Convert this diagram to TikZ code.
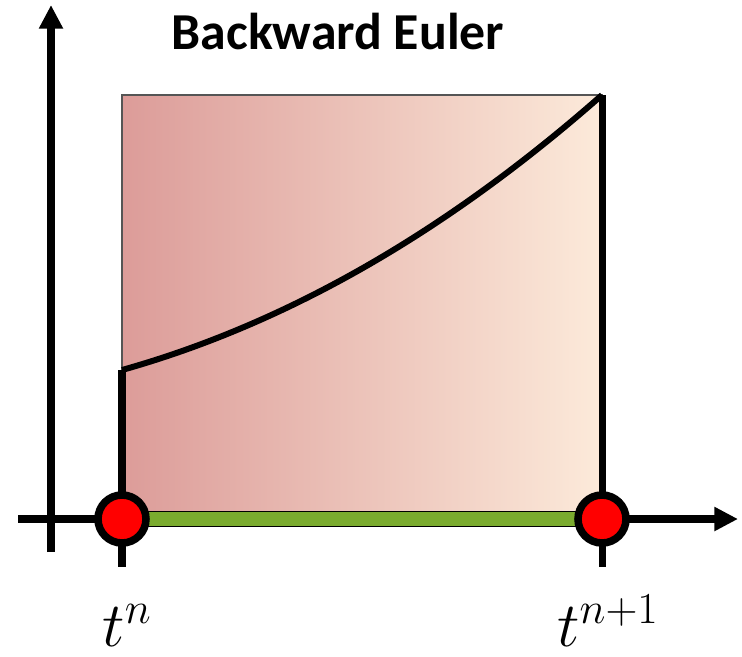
\RequirePackage{fix-cm}
\documentclass[tikz,border=0pt]{standalone}
\usepackage{fontspec}
\newfontfamily\titlefont{Carlito}
\usetikzlibrary{arrows.meta}
\definecolor{leftfill}{HTML}{DC9C99}
\definecolor{rightfill}{HTML}{FCEADA}
\definecolor{barfill}{HTML}{7AAB2E}
\definecolor{dotfill}{HTML}{FF0000}
\definecolor{boxborder}{HTML}{555555}
\tikzset{
  axis/.style={line width=4.5pt, -{Triangle[length=13.5pt,width=13pt]}},
  tick/.style={line width=4pt},
  sol/.style={line width=3.4pt},
  bar/.style={line width=0.6pt, double=barfill, double distance=7.6pt},
  dot/.style={circle, fill=dotfill, draw=black, line width=4.3pt, minimum size=0.96cm, inner sep=0pt},
  tlabel/.style={anchor=base, font=\fontsize{36}{42}\selectfont},
  title/.style={anchor=base, font=\titlefont\bfseries\fontsize{29.5}{35}\selectfont}
}

\begin{document}
\begin{tikzpicture}[x=0.02cm, y=-0.02cm]
\useasboundingbox (0,0) rectangle (742,656);

% Points on the time axis
\coordinate (tn)  at (122,519);
\coordinate (tn1) at (602,519);
\coordinate (start) at (122,370);
\coordinate (top)   at (602,95);

% Shaded area
\shade[left color=leftfill, middle color=rightfill!62!leftfill, right color=rightfill] (122,95) rectangle (602,519);
\draw[boxborder, line width=0.6pt] (122,95) rectangle (602,519);

% Axes
\coordinate (yfoot) at (51,552);
\coordinate (ytip)  at (51,5);
\coordinate (xfoot) at (18,519);
\coordinate (xtip)  at (738,519);
\draw[axis] (yfoot) -- (ytip);
\draw[axis] (xfoot) -- (xtip);

% Interval
\draw[bar] (tn) -- (tn1);

% Verticals and solution curve
\draw[tick] (start) -- (122,567);
\draw[tick] (top) -- (602,567);
\draw[sol] (start) .. controls (282,325) and (442,236) .. (top);

% Time levels
\node[dot] (dotn)  at (tn)  {};
\node[dot] (dotn1) at (tn1) {};
\node[tlabel] (lbln)  at (127,646) {$t^n$};
\node[tlabel] (lbln1) at (608,646) {$t^{n+1}$};

% Title
\node[title] (title) at (338,49) {Backward Euler};

\end{tikzpicture}
\end{document}
